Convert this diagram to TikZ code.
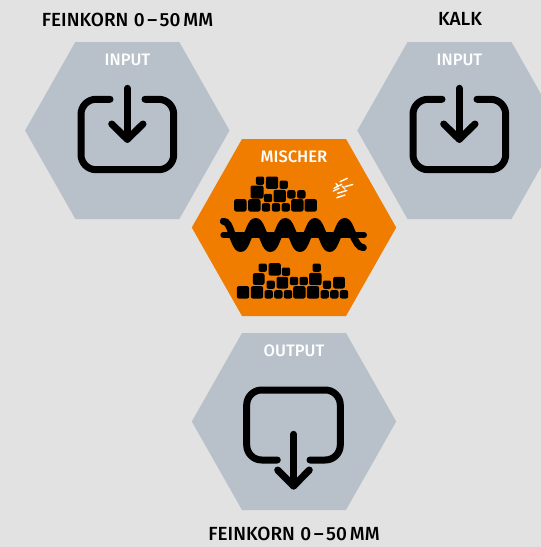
\documentclass[tikz,border=0pt]{standalone}
\usepackage{fontspec}
\setmainfont{Fira Sans}
\newfontfamily\medfont{Fira Sans Medium}
\definecolor{bgc}{HTML}{E2E2E2}
\definecolor{hexc}{HTML}{B8C1CA}
\definecolor{orc}{HTML}{F07D00}
\tikzset{
  hexbox/.style={fill=hexc,draw=none},
  icon/.style={draw=black,line width=7pt,line cap=round,line join=round},
  headtext/.style={text=black,font=\medfont\fontsize{19}{20}\selectfont,inner sep=0pt},
  tagtext/.style={text=white,font=\medfont\fontsize{16.6}{18}\selectfont,inner sep=0pt},
  grain/.style={fill=black,rounded corners=2pt},
  pebble/.style={draw=white,line width=1.4pt,line cap=round},
}
\newcommand{\gr}[3]{\fill[grain] ({190+(#1-#3/2-1.5)/3},{135+(#2-#3/2-1.5)/3}) rectangle ++({(#3+3)/3},{(#3+3)/3});}
\newcommand{\hexat}[3]{\fill[#3] ({#1-102.2},#2) -- ({#1-52},{#2-88.5}) -- ({#1+52},{#2-88.5}) -- ({#1+102.2},#2) -- ({#1+52},{#2+88.5}) -- ({#1-52},{#2+88.5}) -- cycle;}
\newcommand{\feinkorn}{FEINKORN\hspace{5.5pt}0\hspace{2.5pt}–\hspace{2.5pt}50\hspace{3pt}MM}
\begin{document}
\begin{tikzpicture}[x=1pt,y=-1pt]
\useasboundingbox (0,0) rectangle (541,547);
\fill[bgc] (0,0) rectangle (541,547);
\begin{scope}
\clip (0,0) rectangle (541,547);
\hexat{127.3}{130.5}{hexbox}
\hexat{459.5}{130.5}{hexbox}
\hexat{294}{421.5}{hexbox}
\hexat{294}{227.5}{fill=orc}
\end{scope}
% input icons
\foreach \dx in {0,332}{
\begin{scope}[xshift=\dx pt]
\draw[icon,rounded corners=15pt] (110,99.3) -- (81,99.3) -- (81,169.7) -- (173.7,169.7) -- (173.7,99.3) -- (145,99.3);
\draw[icon] (127.3,88.3) -- (127.3,139.3);
\draw[icon] (111.7,124) -- (127.3,139.3) -- (143,124);
\end{scope}}
% output icon
\draw[icon,rounded corners=15pt] (277.3,460) -- (246.7,460) -- (246.7,390) -- (340.3,390) -- (340.3,460) -- (310,460);
\draw[icon] (293.7,434.3) -- (293.7,486);
\draw[icon] (277.7,470) -- (293.7,486) -- (309.3,470);
% grain piles
\foreach \a/\b/\c in {210/137/22,246/143/34,281/149/22,201/171/36,234/189/22,269/183/34,304/178/22,334/178/22,151/211/34,193/211/34,228/217/22,258/217/22,287/217/22,322/211/34,362/211/34,
218/398/22,254/403/34,288/410/22,380/398/22,206/432/32,242/449/22,277/443/32,312/438/22,341/438/22,376/432/34,411/449/22,447/443/32,159/472/34,201/472/34,236/478/22,265/478/22,294/478/22,328/472/34,369/472/34,404/478/22,433/478/22,462/478/22}{\gr{\a}{\b}{\c}}
% screw
\begin{scope}[shift={(190,135)},x=0.3333pt,y=-0.3333pt]
\draw[black,line width=6pt,line cap=round] (100,300) -- (522,300);
\foreach \cx in {197,286,375,464}{
  \fill[black] ({\cx-44},302) .. controls ({\cx-28},300) and ({\cx-28},249) .. (\cx,249) .. controls ({\cx+28},249) and ({\cx+28},300) .. ({\cx+44},302) -- cycle;}
\foreach \cx in {152,241,330,419}{
  \fill[black] ({\cx-44},298) .. controls ({\cx-28},300) and ({\cx-28},351) .. (\cx,351) .. controls ({\cx+28},351) and ({\cx+28},300) .. ({\cx+44},298) -- cycle;}
\draw[black,line width=7pt,line cap=round] (100,259) .. controls (112,259) and (118,272) .. (125,295);
\draw[black,line width=7pt,line cap=round] (488,300) .. controls (497,318) and (505,338) .. (520,338);
\end{scope}
% pebbles
\foreach \xa/\ya/\xb/\yb in {340/181.7/347.3/178.3,345/186.7/352.7/184.5,334/188.3/341.7/184.3,333.3/191/339/188.3,337.7/193.3/346.7/190.5,336.7/197.7/345/195,342/186/345/189,336/183.5/338/186}{\draw[pebble] (\xa,\ya) -- (\xb,\yb);}
% labels
\node[headtext] (h1) at (127.5,20) {\feinkorn};
\node[headtext] (h2) at (460,19) {KALK};
\node[headtext] (h3) at (294,534) {\feinkorn};
\node[tagtext] (t1) at (127.5,59.5) {INPUT};
\node[tagtext] (t2) at (459.5,59.5) {INPUT};
\node[tagtext] (t3) at (294,156.5) {MISCHER};
\node[tagtext] (t4) at (294,350.5) {OUTPUT};
\end{tikzpicture}
\end{document}
